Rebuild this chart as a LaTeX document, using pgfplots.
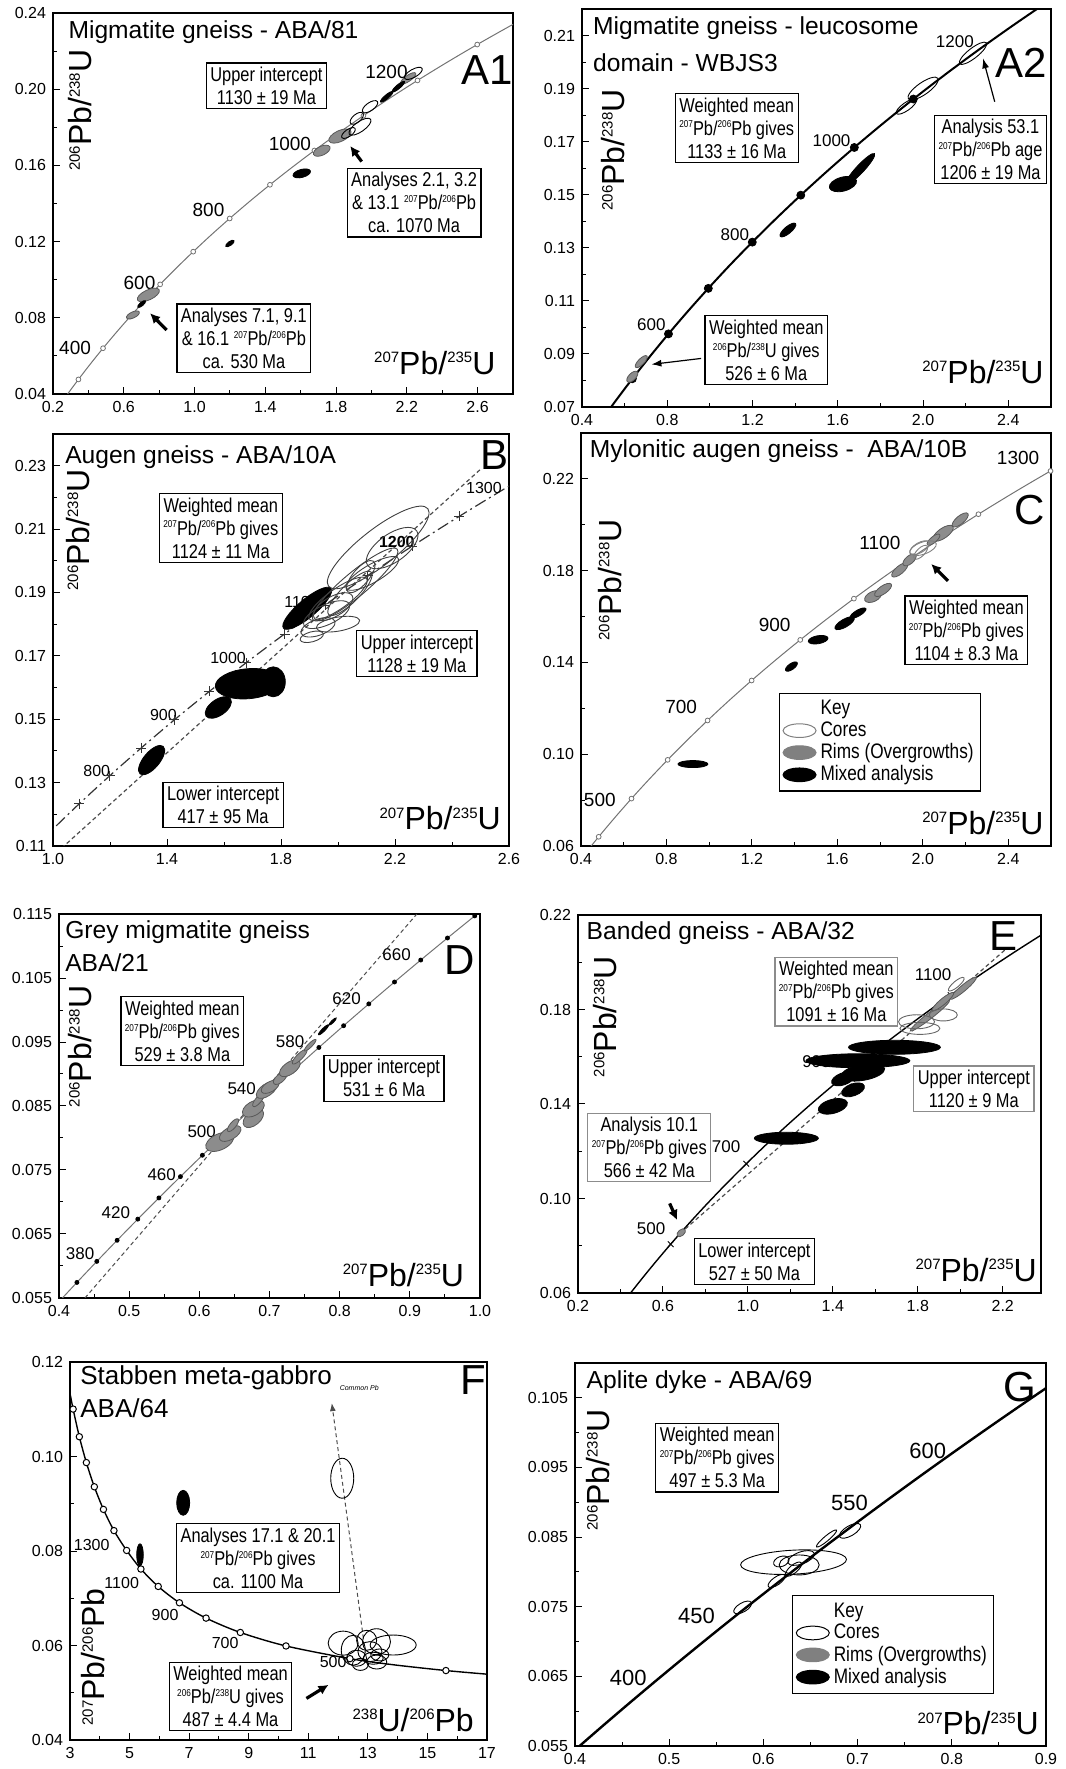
\documentclass[border=0pt]{standalone}
\usepackage{fontspec}
\setmainfont{Liberation Sans}
\newfontfamily\cond[FakeStretch=0.82]{Liberation Sans}
\usepackage{pgfplots}
\usepackage{pgfplotstable}
\pgfplotsset{compat=1.18}
\usetikzlibrary{arrows.meta}

\pgfdeclareplotmark{ell}{%
  \pgfpathellipse{\pgfpointorigin}{\pgfpointpolar{\ellang}{\ellrx*0.5pt}}{\pgfpointpolar{\ellang+90}{\ellry*0.5pt}}%
  \pgfusepathqfillstroke}

\newcommand{\supA}[1]{\raisebox{5.9pt}{\fontsize{7.5}{7.5}\selectfont #1}}
\newcommand{\supB}[1]{\raisebox{3.6pt}{\fontsize{5}{5}\selectfont #1}}
\newcommand{\PbU}{\supA{206}Pb/\supA{238}U}
\newcommand{\PbUx}{\supA{207}Pb/\supA{235}U}
\newcommand{\PbPb}{\supB{207}Pb/\supB{206}Pb}

\pgfplotstableread{
t x y
200 0.21770 0.031511
250 0.27917 0.039542
300 0.34374 0.047637
350 0.41156 0.055795
400 0.48281 0.064016
450 0.55766 0.072300
500 0.63628 0.080650
550 0.71887 0.089064
600 0.80563 0.097544
650 0.89677 0.106090
700 0.99251 0.114702
750 1.09279 0.123382
800 1.19873 0.132129
850 1.30971 0.140944
900 1.42630 0.149828
950 1.54876 0.158781
1000 1.67741 0.167804
1050 1.81255 0.176897
1100 1.95452 0.186061
1150 2.10365 0.195296
1200 2.26030 0.204603
1250 2.42487 0.213982
1300 2.59774 0.223435
1350 2.77933 0.232961
1400 2.97010 0.242562
}\conc

\pgfplotstableread{
t x y
340 0.39773 0.054158
360 0.42553 0.057434
380 0.45389 0.060720
400 0.48281 0.064016
420 0.51231 0.067322
440 0.54239 0.070638
460 0.57307 0.073965
480 0.60437 0.077302
500 0.63628 0.080650
520 0.66883 0.084008
540 0.70203 0.087376
560 0.73588 0.090755
580 0.77041 0.094144
600 0.80563 0.097544
620 0.84155 0.100954
640 0.87818 0.104375
660 0.91554 0.107807
680 0.95365 0.111249
700 0.99251 0.114702
}\concf

\pgfplotstableread{
x y
3.0084 0.113113
3.1046 0.110036
3.3139 0.104186
3.5497 0.098715
3.8170 0.093597
4.1232 0.088807
4.4756 0.084323
4.9020 0.080122
5.3811 0.076188
5.9621 0.072500
6.6741 0.069042
7.5683 0.065799
8.7183 0.062757
10.252 0.059902
12.399 0.057218
13.831 0.055941
15.621 0.054700
17.0 0.053932
}\tw

\pgfplotstableread{
x y
3.1046 0.110036
3.3139 0.104186
3.5497 0.098715
3.8170 0.093597
4.1232 0.088807
4.4756 0.084323
4.9020 0.080122
5.3811 0.076188
5.9621 0.072500
6.6741 0.069042
7.5683 0.065799
8.7183 0.062757
10.252 0.059902
12.399 0.057218
15.621 0.054700
}\twm

\pgfplotsset{
  panel/.style={scale only axis, clip=true, anchor=south west,
    axis line style={line width=0.6pt},
    xtick pos=left, ytick pos=left, tick align=inside,
    major tick length=3.5pt, minor tick length=2pt,
    tick style={line width=0.5pt, black},
    tick label style={font=\fontsize{8}{9}\selectfont},
    /pgf/number format/assume math mode=true,
    minor tick num=1, scaled ticks=false,
    xticklabel style={/pgf/number format/.cd, fixed, fixed zerofill, precision=1},
    yticklabel style={/pgf/number format/.cd, fixed, fixed zerofill, precision=2}},
  ells/.style={only marks, scatter, point meta=x, mark=ell, forget plot,
    visualization depends on={value \thisrow{rx}\as\ellrx},
    visualization depends on={value \thisrow{ry}\as\ellry},
    visualization depends on={value \thisrow{ang}\as\ellang}},
  ecore/.style={ells, scatter/use mapped color={draw=#1, fill=white, fill opacity=0, line width=0.45pt}},
  ecore/.default=black,
  erim/.style={ells, scatter/use mapped color={draw=black!65, fill=black!45, line width=0.4pt}},
  emix/.style={ells, scatter/use mapped color={draw=black, fill=black, line width=0.4pt}},
}

\tikzset{
  ttl/.style={anchor=west, inner sep=0pt, font=\fontsize{12.3}{14}\selectfont},
  plet/.style={inner sep=0pt, font=\fontsize{21}{22}\selectfont},
  age/.style={inner sep=0pt, font=\fontsize{#1}{#1}\selectfont},
  age/.default=9,
  bx/.style={draw=black, line width=0.6pt, fill=white, align=center, inner sep=2pt, font=\cond\fontsize{10}{11.5}\selectfont},
  bxg/.style={bx, draw=black!45},
  axl/.style={inner sep=0pt, font=\fontsize{16}{17}\selectfont},
  arr/.style={-{Latex[length=5pt,width=5pt]}, line width=1.6pt},
  arrt/.style={-{Latex[length=5pt,width=3.5pt]}, line width=0.6pt},
}

\begin{document}
\begin{tikzpicture}
\useasboundingbox (0,0) rectangle (533pt,884.5pt);

% ---------------- A1 ----------------
\begin{axis}[panel, at={(26.5pt,687.5pt)}, width=230pt, height=190.5pt,
  xmin=0.2, xmax=2.8, ymin=0.04, ymax=0.24,
  xtick={0.2,0.6,1.0,1.4,1.8,2.2,2.6}, ytick={0.04,0.08,0.12,0.16,0.20,0.24}]
\addplot[black!55, line width=0.5pt, smooth, forget plot] table[x=x,y=y]{\conc};
\addplot[only marks, mark=*, mark size=1.2pt, mark options={fill=white, draw=black!55, line width=0.4pt}, each nth point=2, forget plot] table[x=x,y=y]{\conc};
\node[age=9.5] at (rel axis cs:0.048,0.12) {400};
\node[age=9.5] at (rel axis cs:0.188,0.291) {600};
\node[age=9.5] at (rel axis cs:0.338,0.483) {800};
\node[age=9.5] at (rel axis cs:0.515,0.656) {1000};
\node[age=9.5] at (rel axis cs:0.725,0.846) {1200};
\addplot[erim] table {
x y rx ry ang
0.652 0.0815 7 3 25
0.739 0.0920 12 5 25
1.719 0.1677 9 4.5 25
1.822 0.1754 12 5.5 25
2.208 0.2057 9 3 35
};
\addplot[emix] table {
x y rx ry ang
0.701 0.0872 5 1.8 40
1.200 0.1190 5 2 35
1.606 0.1558 9 4 15
2.086 0.1960 8 2 40
2.152 0.2013 8 2 40
};
\addplot[ecore] table {
x y rx ry ang
1.935 0.1803 13 5 35
1.917 0.1847 8 4 40
1.992 0.1908 9 4 35
2.237 0.2083 10 4 30
1.870 0.1770 8 3.5 35
};
\node[ttl] at (rel axis cs:0.033,0.951) {Migmatite gneiss - ABA/81};
\node[plet] at (rel axis cs:0.943,0.85) {A1};
\node[bx] at (rel axis cs:0.464,0.809) {Upper intercept\\1130 ± 19 Ma};
\node[bx] at (rel axis cs:0.785,0.502) {Analyses 2.1, 3.2\\\& 13.1 \PbPb\\ca. 1070 Ma};
\node[bx] at (rel axis cs:0.415,0.146) {Analyses 7.1, 9.1\\\& 16.1 \PbPb\\ca. 530 Ma};
\draw[arr] (rel axis cs:0.671,0.610) -- (rel axis cs:0.646,0.651);
\draw[arr] (rel axis cs:0.247,0.168) -- (rel axis cs:0.211,0.212);
\node[axl, rotate=90] at (rel axis cs:0.059,0.745) {\PbU};
\node[axl] at (rel axis cs:0.830,0.081) {\PbUx};
\end{axis}

% ---------------- A2 ----------------
\begin{axis}[panel, at={(291pt,681pt)}, width=234.5pt, height=199pt,
  xmin=0.4, xmax=2.6, ymin=0.07, ymax=0.22,
  xtick={0.4,0.8,1.2,1.6,2.0,2.4}, ytick={0.07,0.09,0.11,0.13,0.15,0.17,0.19,0.21}]
\addplot[black, line width=1pt, smooth, forget plot] table[x=x,y=y]{\conc};
\addplot[only marks, mark=*, mark size=2pt, black, forget plot] table {
x y
0.63628 0.080650
0.80563 0.097544
0.99251 0.114702
1.19873 0.132129
1.42630 0.149828
1.67741 0.167804
1.95452 0.186061
};
\node[age=8.5] at (rel axis cs:0.148,0.206) {600};
\node[age=8.5] at (rel axis cs:0.326,0.432) {800};
\node[age=8.5] at (rel axis cs:0.532,0.669) {1000};
\node[age=8.5] at (rel axis cs:0.795,0.918) {1200};
\addplot[erim] table {
x y rx ry ang
0.636 0.0814 7 3.5 45
0.678 0.0871 8 3 45
};
\addplot[emix] table {
x y rx ry ang
1.366 0.1367 10 3.5 40
1.624 0.1540 14 7 15
1.705 0.1597 21 4 47
};
\addplot[ecore] table {
x y rx ry ang
2.000 0.1900 18 6 35
1.921 0.1832 12 4 35
2.234 0.2033 17 5 38
};
\node[ttl] at (rel axis cs:0.023,0.951) {Migmatite gneiss - leucosome};
\node[ttl] at (rel axis cs:0.023,0.864) {domain - WBJS3};
\node[plet] at (rel axis cs:0.937,0.864) {A2};
\node[bx] at (rel axis cs:0.330,0.701) {Weighted mean\\\PbPb{} gives\\1133 ± 16 Ma};
\node[bx] at (rel axis cs:0.871,0.647) {Analysis 53.1\\\PbPb{} age\\1206 ± 19 Ma};
\node[bx] at (rel axis cs:0.393,0.143) {Weighted mean\\\supB{206}Pb/\supB{238}U gives\\526 ± 6 Ma};
\draw[arrt] (rel axis cs:0.254,0.122) -- (rel axis cs:0.148,0.107);
\draw[arrt] (rel axis cs:0.880,0.767) -- (rel axis cs:0.855,0.876);
\node[axl, rotate=90] at (rel axis cs:0.066,0.646) {\PbU};
\node[axl] at (rel axis cs:0.855,0.089) {\PbUx};
\end{axis}

% ---------------- B ----------------
\begin{axis}[panel, at={(26.5pt,461.5pt)}, width=228pt, height=206pt,
  xmin=1.0, xmax=2.6, ymin=0.11, ymax=0.24,
  xtick={1.0,1.4,1.8,2.2,2.6}, ytick={0.11,0.13,0.15,0.17,0.19,0.21,0.23}]
\addplot[black!80, line width=0.6pt, smooth, dash pattern=on 6pt off 2pt on 1pt off 2pt, forget plot] table[x=x,y=y]{\conc};
\addplot[only marks, mark=+, mark size=2.5pt, black!80, restrict x to domain=1.05:2.45, forget plot] table[x=x,y=y]{\conc};
\addplot[black!70, line width=0.6pt, dash pattern=on 2pt off 1.5pt, forget plot] coordinates {(1.03,0.10930) (2.50,0.22886)};
\node[age=8] at (rel axis cs:0.096,0.183) {800};
\node[age=8] at (rel axis cs:0.242,0.318) {900};
\node[age=8] at (rel axis cs:0.384,0.457) {1000};
\node[age=8] at (rel axis cs:0.545,0.593) {1100};
\node[age=8, font=\bfseries\fontsize{8}{8}\selectfont] at (rel axis cs:0.754,0.739) {1200};
\node[age=8] at (rel axis cs:0.945,0.868) {1300};
\addplot[emix] table {
x y rx ry ang
1.346 0.1371 18 8 50
1.580 0.1537 15 8 35
1.685 0.1612 33 15 5
1.773 0.1618 12 15 0
1.892 0.1850 31 9 40
};
\addplot[ecore=black!75] table {
x y rx ry ang
2.141 0.2042 63 18 38
2.060 0.1925 55 12 40
2.000 0.1880 35 10 35
1.960 0.1830 25 10 25
2.120 0.1960 30 9 30
2.000 0.1800 22 7 10
1.930 0.1790 18 8 20
2.190 0.2040 30 14 35
2.080 0.1950 20 8 50
1.908 0.1760 12 5 15
1.983 0.1855 22 10 30
2.042 0.1897 30 9 45
};
\node[ttl] at (rel axis cs:0.026,0.945) {Augen gneiss - ABA/10A};
\node[plet] at (rel axis cs:0.969,0.950) {B};
\node[bx] at (rel axis cs:0.368,0.772) {Weighted mean\\\PbPb{} gives\\1124 ± 11 Ma};
\node[bx] at (rel axis cs:0.798,0.467) {Upper intercept\\1128 ± 19 Ma};
\node[bx] at (rel axis cs:0.373,0.0995) {Lower intercept\\417 ± 95 Ma};
\node[axl, rotate=90] at (rel axis cs:0.056,0.767) {\PbU};
\node[axl] at (rel axis cs:0.849,0.067) {\PbUx};
\end{axis}

% ---------------- C ----------------
\begin{axis}[panel, at={(290.5pt,461.5pt)}, width=235pt, height=206.5pt,
  xmin=0.4, xmax=2.6, ymin=0.06, ymax=0.24,
  xtick={0.4,0.8,1.2,1.6,2.0,2.4}, ytick={0.06,0.10,0.14,0.18,0.22},
  legend style={at={(rel axis cs:0.421,0.371)}, anchor=north west, draw=black, line width=0.6pt,
    font=\cond\fontsize{10.5}{11}\selectfont, row sep=-2pt, inner sep=1.5pt},
  legend cell align=left]
\addlegendimage{empty legend}\addlegendentry{Key}
\addlegendimage{legend image code/.code={\draw[draw=black!50, fill=white, line width=0.5pt] (0.3cm,0cm) ellipse [x radius=0.29cm, y radius=0.12cm];}}\addlegendentry{Cores}
\addlegendimage{legend image code/.code={\draw[draw=black!50, fill=black!50, line width=0.5pt] (0.3cm,0cm) ellipse [x radius=0.29cm, y radius=0.12cm];}}\addlegendentry{Rims (Overgrowths)}
\addlegendimage{legend image code/.code={\draw[draw=black, fill=black, line width=0.5pt] (0.3cm,0cm) ellipse [x radius=0.29cm, y radius=0.12cm];}}\addlegendentry{Mixed analysis}
\addplot[black!55, line width=0.5pt, smooth, forget plot] table[x=x,y=y]{\conc};
\addplot[only marks, mark=*, mark size=1.2pt, mark options={fill=white, draw=black!55, line width=0.4pt}, each nth point=2, forget plot] table[x=x,y=y]{\conc};
\node[age=9.5] at (rel axis cs:0.040,0.111) {500};
\node[age=9.5] at (rel axis cs:0.213,0.337) {700};
\node[age=9.5] at (rel axis cs:0.412,0.535) {900};
\node[age=9.5] at (rel axis cs:0.636,0.733) {1100};
\node[age=9.5] at (rel axis cs:0.930,0.939) {1300};
\addplot[emix] table {
x y rx ry ang
0.924 0.0957 15 3.5 0
1.385 0.1382 7 3 35
1.510 0.1499 10 4 10
1.634 0.1571 11 4 30
1.697 0.1615 9 3 30
};
\addplot[erim] table {
x y rx ry ang
1.767 0.1687 9 5 25
1.814 0.1716 10 4 35
1.892 0.1803 10 4 40
1.938 0.1847 8 4 40
2.095 0.1963 12 5 35
2.175 0.2021 10 4 40
2.050 0.1935 8 3 40
};
\addplot[ecore=black!50] table {
x y rx ry ang
2.001 0.1898 14 6 20
1.990 0.1880 9 4 45
1.985 0.1900 11 5 30
};
\node[ttl] at (rel axis cs:0.018,0.957) {Mylonitic augen gneiss -\ \ ABA/10B};
\node[plet] at (rel axis cs:0.954,0.814) {C};
\node[bx] at (rel axis cs:0.820,0.522) {Weighted mean\\\PbPb{} gives\\1104 ± 8.3 Ma};
\draw[arr] (rel axis cs:0.781,0.642) -- (rel axis cs:0.745,0.683);
\node[axl, rotate=90] at (rel axis cs:0.061,0.644) {\PbU};
\node[axl] at (rel axis cs:0.855,0.055) {\PbUx};
\end{axis}

% ---------------- D ----------------
\begin{axis}[panel, at={(29.5pt,235.5pt)}, width=210.5pt, height=192pt,
  xmin=0.4, xmax=1.0, ymin=0.055, ymax=0.115,
  xtick={0.4,0.5,0.6,0.7,0.8,0.9,1.0}, ytick={0.055,0.065,0.075,0.085,0.095,0.105,0.115},
  yticklabel style={/pgf/number format/.cd, fixed, fixed zerofill, precision=3}]
\addplot[black!55, line width=0.5pt, smooth, forget plot] table[x=x,y=y]{\concf};
\addplot[only marks, mark=*, mark size=1pt, black, forget plot] table[x=x,y=y]{\concf};
\addplot[black!70, line width=0.5pt, dash pattern=on 2pt off 1.5pt, forget plot] coordinates {(0.437,0.055) (0.910,0.115)};
\node[age=8.5] at (rel axis cs:0.050,0.116) {380};
\node[age=8.5] at (rel axis cs:0.135,0.221) {420};
\node[age=8.5] at (rel axis cs:0.244,0.320) {460};
\node[age=8.5] at (rel axis cs:0.339,0.433) {500};
\node[age=8.5] at (rel axis cs:0.434,0.546) {540};
\node[age=8.5] at (rel axis cs:0.549,0.668) {580};
\node[age=8.5] at (rel axis cs:0.683,0.780) {620};
\node[age=8.5] at (rel axis cs:0.802,0.893) {660};
\addplot[erim] table {
x y rx ry ang
0.629 0.0794 15 8 25
0.644 0.0807 12 6 30
0.648 0.0820 8 3 50
0.677 0.0831 12 7 40
0.677 0.0846 12 7 30
0.684 0.0859 8 3 50
0.696 0.0875 12 6 35
0.701 0.0880 10 5 30
0.715 0.0893 8 4 40
0.729 0.0909 12 6 35
0.743 0.0927 10 3 45
0.758 0.0945 8 2 45
};
\addplot[emix] table {
x y rx ry ang
0.777 0.0969 7 1.5 45
0.790 0.0982 5 1.2 45
};
\node[ttl] at (rel axis cs:0.014,0.954) {Grey migmatite gneiss};
\node[ttl] at (rel axis cs:0.014,0.872) {ABA/21};
\node[plet] at (rel axis cs:0.952,0.880) {D};
\node[bx] at (rel axis cs:0.293,0.695) {Weighted mean\\\PbPb{} gives\\529 ± 3.8 Ma};
\node[bx] at (rel axis cs:0.772,0.572) {Upper intercept\\531 ± 6 Ma};
\node[axl, rotate=90] at (rel axis cs:0.050,0.655) {\PbU};
\node[axl] at (rel axis cs:0.818,0.060) {\PbUx};
\end{axis}

% ---------------- E ----------------
\begin{axis}[panel, at={(289pt,238pt)}, width=231.5pt, height=189pt,
  xmin=0.2, xmax=2.38, ymin=0.06, ymax=0.22,
  xtick={0.2,0.6,1.0,1.4,1.8,2.2}, ytick={0.06,0.10,0.14,0.18,0.22}]
\addplot[black, line width=0.7pt, smooth, forget plot] table[x=x,y=y]{\conc};
\addplot[only marks, mark=x, mark size=2pt, black, forget plot] table {
x y
0.63628 0.080650
0.99251 0.114702
1.42630 0.149828
1.95452 0.186061
};
\addplot[black!70, line width=0.6pt, dash pattern=on 2pt off 1.5pt, forget plot] coordinates {(0.680,0.08516) (2.22,0.20596)};
\node[age=8.5] at (rel axis cs:0.158,0.171) {500};
\node[age=8.5] at (rel axis cs:0.320,0.386) {700};
\node[age=8.5] at (rel axis cs:0.515,0.612) {900};
\node[age=8.5] at (rel axis cs:0.767,0.841) {1100};
\addplot[emix] table {
x y rx ry ang
1.181 0.1255 32 6 0
1.400 0.1390 15 7 15
1.495 0.1460 12 6 20
1.690 0.1640 46 7 0
1.518 0.1583 52 7 0
1.542 0.1534 22 8 10
1.448 0.1506 12 6 20
};
\addplot[erim] table {
x y rx ry ang
0.686 0.0855 5 3 40
1.857 0.1774 25 3 38
2.014 0.1890 17 3 40
1.918 0.1833 14 3 40
};
\addplot[ecore=black!60] table {
x y rx ry ang
1.794 0.1748 18 7 0
1.920 0.1777 14 6 0
1.810 0.1720 20 6 0
1.981 0.1907 10 3 40
};
\node[ttl] at (rel axis cs:0.018,0.953) {Banded gneiss - ABA/32};
\node[plet] at (rel axis cs:0.918,0.943) {E};
\node[bxg] at (rel axis cs:0.558,0.797) {Weighted mean\\\PbPb{} gives\\1091 ± 16 Ma};
\node[bxg] at (rel axis cs:0.855,0.540) {Upper intercept\\1120 ± 9 Ma};
\node[bxg] at (rel axis cs:0.154,0.385) {Analysis 10.1\\\PbPb{} gives\\566 ± 42 Ma};
\node[bx] at (rel axis cs:0.381,0.083) {Lower intercept\\527 ± 50 Ma};
\draw[arr] (rel axis cs:0.198,0.237) -- (rel axis cs:0.214,0.193);
\node[axl, rotate=90] at (rel axis cs:0.058,0.731) {\PbU};
\node[axl] at (rel axis cs:0.860,0.061) {\PbUx};
\end{axis}

% ---------------- F ----------------
\begin{axis}[panel, at={(35pt,14.5pt)}, width=208.5pt, height=189pt,
  xmin=3, xmax=17, ymin=0.04, ymax=0.12,
  xtick={3,5,7,9,11,13,15,17}, ytick={0.04,0.06,0.08,0.10,0.12},
  xticklabel style={/pgf/number format/.cd, fixed, precision=0}]
\addplot[black, line width=0.7pt, smooth, forget plot] table[x=x,y=y]{\tw};
\addplot[only marks, mark=*, mark size=1.6pt, mark options={fill=white, draw=black, line width=0.5pt}, forget plot] table[x=x,y=y]{\twm};
\node[age=8] at (rel axis cs:0.052,0.516) {1300};
\node[age=8] at (rel axis cs:0.124,0.416) {1100};
\node[age=8] at (rel axis cs:0.228,0.331) {900};
\node[age=8] at (rel axis cs:0.372,0.256) {700};
\node[age=8] at (rel axis cs:0.631,0.207) {500};
\draw[black!70, dash pattern=on 2pt off 1.5pt, -{Latex[length=4pt,width=3pt]}, line width=0.5pt] (axis cs:12.85,0.0615) -- (axis cs:11.79,0.1113);
\addplot[emix] table {
x y rx ry ang
5.35 0.0792 3.3 11 0
6.80 0.0902 6.5 12.5 0
};
\addplot[ecore] table {
x y rx ry ang
12.14 0.0954 11.5 20 0
12.17 0.0605 15 12 0
13.29 0.0608 14 13 0
13.85 0.0601 23 10 0
12.62 0.0573 10 8 0
13.07 0.0587 12 10 0
13.18 0.0573 10 6 0
12.51 0.0590 12 15 0
12.96 0.0611 10 10 0
13.40 0.0580 9 6 0
12.75 0.0560 8 6 0
13.30 0.0565 10 7 0
};
\node[ttl, font=\fontsize{13}{14}\selectfont] at (rel axis cs:0.024,0.957) {Stabben meta-gabbro};
\node[ttl, font=\fontsize{13}{14}\selectfont] at (rel axis cs:0.024,0.877) {ABA/64};
\node[inner sep=0pt, anchor=west, font=\itshape\fontsize{3.5}{4}\selectfont] at (rel axis cs:0.646,0.930) {Common Pb};
\node[plet] at (rel axis cs:0.967,0.952) {F};
\node[bx] at (rel axis cs:0.451,0.481) {Analyses 17.1 \& 20.1\\\PbPb{} gives\\ca. 1100 Ma};
\node[bx] at (rel axis cs:0.385,0.115) {Weighted mean\\\supB{206}Pb/\supB{238}U gives\\487 ± 4.4 Ma};
\draw[arr] (rel axis cs:0.567,0.110) -- (rel axis cs:0.620,0.146);
\node[axl, rotate=90] at (rel axis cs:0.056,0.220) {\supA{207}Pb/\supA{206}Pb};
\node[axl] at (rel axis cs:0.823,0.053) {\supA{238}U/\supA{206}Pb};
\end{axis}

% ---------------- G ----------------
\begin{axis}[panel, at={(287.5pt,11.5pt)}, width=235.5pt, height=191.5pt,
  xmin=0.4, xmax=0.9, ymin=0.055, ymax=0.11,
  xtick={0.4,0.5,0.6,0.7,0.8,0.9}, ytick={0.055,0.065,0.075,0.085,0.095,0.105},
  yticklabel style={/pgf/number format/.cd, fixed, fixed zerofill, precision=3},
  legend style={at={(rel axis cs:0.461,0.394)}, anchor=north west, draw=black, line width=0.6pt,
    font=\cond\fontsize{10.5}{11}\selectfont, row sep=-2pt, inner sep=1.5pt},
  legend cell align=left]
\addlegendimage{empty legend}\addlegendentry{Key}
\addlegendimage{legend image code/.code={\draw[draw=black, fill=white, line width=0.5pt] (0.3cm,0cm) ellipse [x radius=0.29cm, y radius=0.12cm];}}\addlegendentry{Cores}
\addlegendimage{legend image code/.code={\draw[draw=black!50, fill=black!50, line width=0.5pt] (0.3cm,0cm) ellipse [x radius=0.29cm, y radius=0.12cm];}}\addlegendentry{Rims (Overgrowths)}
\addlegendimage{legend image code/.code={\draw[draw=black, fill=black, line width=0.5pt] (0.3cm,0cm) ellipse [x radius=0.29cm, y radius=0.12cm];}}\addlegendentry{Mixed analysis}
\addplot[black, line width=1.2pt, smooth, forget plot] table[x=x,y=y]{\concf};
\node[age=11] at (rel axis cs:0.113,0.177) {400};
\node[age=11] at (rel axis cs:0.258,0.339) {450};
\node[age=11] at (rel axis cs:0.583,0.634) {550};
\node[age=11] at (rel axis cs:0.749,0.771) {600};
\addplot[ecore] table {
x y rx ry ang
0.578 0.0749 10 4.5 30
0.614 0.0787 10 4 35
0.632 0.0814 53 12 3
0.638 0.0810 20 10 0
0.632 0.0804 10 4 40
0.667 0.0848 13 2.5 40
0.692 0.0859 12 5 30
0.619 0.0815 8 5 20
0.640 0.0820 14 6 20
};
\node[ttl] at (rel axis cs:0.024,0.951) {Aplite dyke - ABA/69};
\node[plet] at (rel axis cs:0.944,0.938) {G};
\node[bx] at (rel axis cs:0.302,0.753) {Weighted mean\\\PbPb{} gives\\497 ± 5.3 Ma};
\node[axl, rotate=90] at (rel axis cs:0.049,0.721) {\PbU};
\node[axl] at (rel axis cs:0.856,0.059) {\PbUx};
\end{axis}
\end{tikzpicture}
\end{document}
